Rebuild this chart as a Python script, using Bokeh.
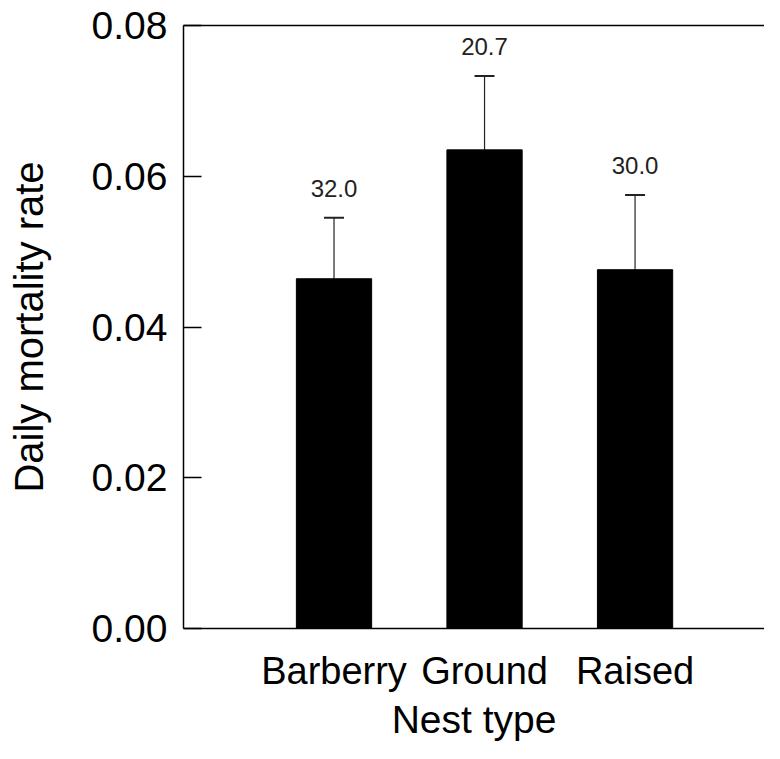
from bokeh.plotting import figure
from bokeh.models import (Range1d, FixedTicker, PrintfTickFormatter, LinearAxis,
                          Whisker, ColumnDataSource, TeeHead, LabelSet)
from bokeh.core.properties import value
from bokeh.embed import file_html
from bokeh.resources import INLINE

# ---- data ----
nest_types = ["Barberry", "Ground", "Raised"]
mortality = [0.0464, 0.0635, 0.0476]
std_error = [0.0081, 0.0098, 0.0099]
sample_labels = ["32.0", "20.7", "30.0"]
y_ticks = [0.0, 0.02, 0.04, 0.06, 0.08]

FONT = "Liberation Sans"

x = list(range(1, len(nest_types) + 1))
upper = [m + e for m, e in zip(mortality, std_error)]
src = ColumnDataSource(dict(x=x, top=mortality, upper=upper, lab=sample_labels))

p = figure(width=764, height=743, output_backend="svg", toolbar_location=None,
           x_range=Range1d(0, 3.86), y_range=Range1d(0, 0.08),
           x_axis_location=None, y_axis_location=None,
           min_border_left=183, min_border_top=25, min_border_bottom=115,
           min_border_right=0)
p.outline_line_color = None
p.grid.visible = False
p.background_fill_color = "white"
p.border_fill_color = "white"

p.vbar(x="x", top="top", bottom=0, width=0.5, source=src,
       fill_color="black", line_color="black")

wh = Whisker(base="x", lower="top", upper="upper", source=src,
             line_color="#222222", line_width=1.2, lower_head=None,
             upper_head=TeeHead(size=20, line_color="#222222", line_width=2))
p.add_layout(wh)

labels = LabelSet(x="x", y="upper", text="lab", source=src, y_offset=21,
                  text_align="center", text_baseline="alphabetic",
                  text_font_size=value("24px"), text_font=value(FONT),
                  text_color="#222222")
p.add_layout(labels)

# top border line
top_axis = LinearAxis(ticker=FixedTicker(ticks=[]), major_tick_line_color=None,
                      minor_tick_line_color=None, major_label_text_font_size="0px",
                      axis_line_color="black", axis_line_width=1.5)
p.add_layout(top_axis, "above")

# y axis
ya = LinearAxis()
ya.ticker = FixedTicker(ticks=y_ticks)
ya.formatter = PrintfTickFormatter(format="%.2f")
ya.major_tick_in = 18
ya.major_tick_out = 0
ya.minor_tick_line_color = None
ya.major_tick_line_color = "black"
ya.major_tick_line_width = 1.5
ya.axis_line_color = "black"
ya.axis_line_width = 1.5
ya.major_label_standoff = 16
ya.major_label_text_font = FONT
ya.major_label_text_font_size = "39px"
ya.major_label_text_color = "black"
ya.axis_label = "Daily mortality rate"
ya.axis_label_text_font = FONT
ya.axis_label_text_font_size = "40px"
ya.axis_label_text_font_style = "normal"
ya.axis_label_text_color = "black"
ya.axis_label_standoff = 38
p.add_layout(ya, "left")

# x axis
xa = LinearAxis()
xa.ticker = FixedTicker(ticks=x)
xa.major_label_overrides = {i: n for i, n in zip(x, nest_types)}
xa.major_tick_line_color = None
xa.minor_tick_line_color = None
xa.axis_line_color = "black"
xa.axis_line_width = 1.5
xa.major_label_standoff = 15
xa.major_label_text_font = FONT
xa.major_label_text_font_size = "38px"
xa.major_label_text_color = "black"
xa.axis_label = "Nest type"
xa.axis_label_text_font = FONT
xa.axis_label_text_font_size = "39px"
xa.axis_label_text_font_style = "normal"
xa.axis_label_text_color = "black"
xa.axis_label_standoff = 3
p.add_layout(xa, "below")

open("out.html", "w").write(file_html(p, INLINE))
